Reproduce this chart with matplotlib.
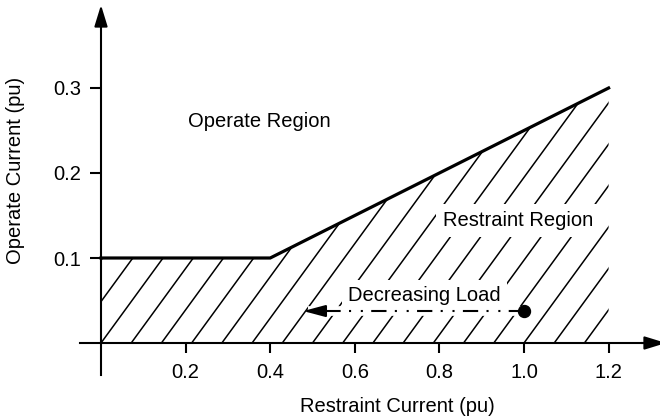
import matplotlib as mpl
import matplotlib.pyplot as plt
import numpy as np
from matplotlib.patches import Polygon

mpl.rcParams.update({
    "font.family": "sans-serif",
    "font.sans-serif": ["Liberation Sans", "Arial", "DejaVu Sans"],
    "font.size": 14.5,
    "lines.scale_dashes": False,
})

# characteristic (pu)
knee_x = [0.0, 0.4, 1.2]
knee_y = [0.1, 0.1, 0.3]
x_ticks = [0.2, 0.4, 0.6, 0.8, 1.0, 1.2]
x_tick_labels = ["0.2", "0.4", "0.6", "0.8", "1.0", "1.2"]
y_ticks = [0.1, 0.2, 0.3]
y_tick_labels = ["0.1", "0.2", "0.3"]
load_start = (1.0, 0.0376)
load_end = 0.478

# pixel -> data: x = (px - 101) / 423, y = (343 - py) / 850
XS, YS = 423.0, 850.0

fig = plt.figure(figsize=(6.6, 4.2), dpi=100)
ax = fig.add_axes([0, 0, 1, 1])
ax.set_xlim(-101 / XS, 559 / XS)
ax.set_ylim(-77 / YS, 343 / YS)
ax.patch.set_alpha(0)

for side in ["top", "right"]:
    ax.spines[side].set_visible(False)
ax.spines["left"].set_position(("data", 0))
ax.spines["bottom"].set_position(("data", 0))
ax.spines["left"].set_bounds(-32 / YS, 325 / YS)
ax.spines["bottom"].set_bounds(-21 / XS, 550 / XS)
for side in ["left", "bottom"]:
    ax.spines[side].set_linewidth(1.5)

ax.set_xticks(x_ticks)
ax.set_xticklabels(x_tick_labels)
ax.set_yticks(y_ticks)
ax.set_yticklabels(y_tick_labels)
ax.tick_params(axis="x", direction="out", length=7.2, width=1.5, pad=7.0, labelsize=14.5)
ax.tick_params(axis="y", direction="out", length=8.0, width=1.5, pad=6.5, labelsize=14.5)

# axis arrowheads
arrow_kw = dict(arrowstyle="-|>,head_length=1.3,head_width=0.4", color="black", lw=1.5,
                shrinkA=0, shrinkB=0, mutation_scale=10)
ax.annotate("", xy=(565 / XS, 0), xytext=(540 / XS, 0), arrowprops=arrow_kw, annotation_clip=False)
ax.annotate("", xy=(0, 338 / YS), xytext=(0, 315 / YS), arrowprops=arrow_kw, annotation_clip=False)

# restraint region hatch (clipped to the region under the characteristic)
region = Polygon(
    [(knee_x[0], 0)] + list(zip(knee_x, knee_y)) + [(knee_x[-1], 0)],
    closed=True, facecolor="none", edgecolor="none",
)
ax.add_patch(region)
slope = 0.682
step = 1 / 14
ys = np.array([-0.05, 0.4])
for k in range(-8, 20):
    x0 = k * step
    ln, = ax.plot(x0 + ys / slope, ys, color="black", lw=1.1, zorder=2)
    ln.set_clip_path(region)

# characteristic
ax.plot(knee_x, knee_y, color="black", lw=2.3, solid_joinstyle="miter", zorder=4)

# labels
ax.text(0.374, 0.2541, "Operate Region", ha="center", va="baseline", zorder=5)
ax.text(0.986, 0.1376, "Restraint Region", ha="center", va="baseline", zorder=5,
        bbox=dict(boxstyle="square,pad=0.35", facecolor="white", edgecolor="none"))
ax.text(0.764, 0.0498, "Decreasing Load", ha="center", va="baseline", zorder=5,
        bbox=dict(boxstyle="square,pad=0.3", facecolor="white", edgecolor="none"))

# decreasing load arrow
head_base = load_end + 19 / XS
ax.plot([load_start[0], load_end + 5 / XS], [load_start[1]] * 2, color="white", lw=7,
        solid_capstyle="butt", zorder=4)
ax.plot([load_start[0], head_base], [load_start[1]] * 2, color="black", lw=1.5,
        dashes=(11, 6, 1.5, 7, 1.5, 6), zorder=5)
ax.annotate("", xy=(load_end, load_start[1]), xytext=(head_base, load_start[1]),
            arrowprops=dict(arrowstyle="-|>,head_length=1.35,head_width=0.36", color="black",
                            lw=1.5, shrinkA=0, shrinkB=0, mutation_scale=10), zorder=6)
ax.plot([load_start[0]], [load_start[1]], "o", color="black", ms=8.6, zorder=6)

ax.text(0.70, -0.0808, "Restraint Current (pu)", ha="center", va="baseline")
ax.text(-0.2033, 0.2035, "Operate Current (pu)", ha="center", va="center", rotation=90)

fig.savefig("out.png", dpi=100)
